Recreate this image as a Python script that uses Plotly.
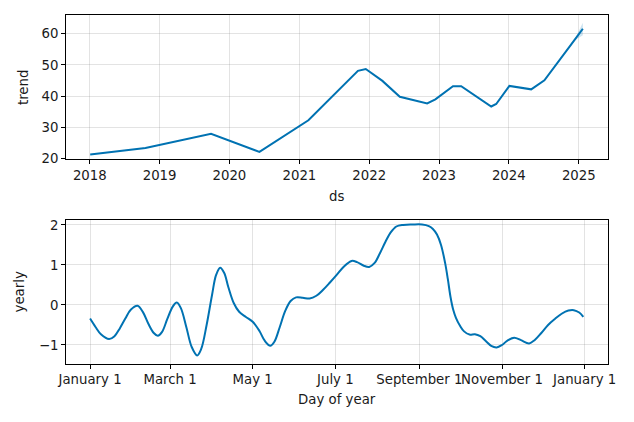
import pandas as pd
import plotly.graph_objects as go

# ---- trend component ----
trend_dates = ["2018-01-03", "2018-10-19", "2019-09-27", "2020-06-06", "2021-02-17",
               "2021-11-03", "2021-12-14", "2022-03-11", "2022-06-10", "2022-10-31",
               "2022-12-13", "2023-03-15", "2023-04-27", "2023-10-01", "2023-10-27",
               "2024-01-04", "2024-04-27", "2024-07-05", "2024-12-06", "2025-01-22"]
trend_vals = [21.3, 23.4, 28.0, 22.15, 32.3,
              48.1, 48.7, 44.9, 39.8, 37.7,
              39.0, 43.2, 43.2, 36.7, 37.5,
              43.3, 42.2, 45.1, 57.7, 61.6]
trend_lower = [21.3, 23.4, 28.0, 22.15, 32.3,
               48.1, 48.7, 44.9, 39.8, 37.7,
               39.0, 43.2, 43.2, 36.7, 37.5,
               43.3, 42.2, 45.1, 57.7, 59.5]
trend_upper = [21.3, 23.4, 28.0, 22.15, 32.3,
               48.1, 48.7, 44.9, 39.8, 37.7,
               39.0, 43.2, 43.2, 36.7, 37.5,
               43.3, 42.2, 45.1, 57.7, 63.5]

# ---- yearly component (day offset from Jan 1) ----
yearly_days = [0, 4, 8, 14, 18, 22, 26, 30, 35, 39, 43, 47, 50, 53, 57, 61, 64, 67, 71, 75,
               79, 82, 86, 90, 93, 96, 99, 102, 106, 110, 115, 120, 125, 129, 133, 136, 140,
               144, 148, 152, 157, 162, 167, 172, 177, 182, 187, 193, 197, 202, 206, 210,
               214, 218, 222, 226, 231, 238, 245, 250, 253, 256, 259, 262, 264, 266, 268,
               270, 273, 276, 280, 284, 288, 292, 296, 300, 304, 308, 313, 318, 324, 328,
               333, 338, 343, 348, 353, 357, 361, 364]
yearly_vals = [-0.34, -0.55, -0.73, -0.85, -0.78, -0.58, -0.34, -0.12, -0.02, -0.18, -0.47,
               -0.70, -0.77, -0.68, -0.35, -0.04, 0.06, -0.08, -0.55, -1.05,
               -1.26, -1.10, -0.50, 0.25, 0.75, 0.93, 0.80, 0.45, 0.05, -0.17, -0.30, -0.42,
               -0.65, -0.90, -1.02, -0.92, -0.55,
               -0.15, 0.10, 0.19, 0.18, 0.16, 0.23, 0.38, 0.56, 0.75, 0.95, 1.10, 1.07, 0.98,
               0.95, 1.05,
               1.30, 1.58, 1.82, 1.96, 2.00, 2.01, 2.01, 1.97, 1.90, 1.76, 1.50, 1.05, 0.65,
               0.20, -0.12,
               -0.32, -0.52, -0.66, -0.74, -0.73, -0.78, -0.90, -1.02, -1.06, -1.00, -0.89,
               -0.82, -0.88, -0.96, -0.88,
               -0.70, -0.50, -0.35, -0.22, -0.14, -0.13, -0.19, -0.30]

trend_ticks = ["2018", "2019", "2020", "2021", "2022", "2023", "2024", "2025"]
yearly_tick_dates = ["2017-01-01", "2017-03-01", "2017-05-01", "2017-07-01",
                     "2017-09-01", "2017-11-01", "2018-01-01"]
yearly_tick_labels = ["January 1", "March 1", "May 1", "July 1",
                      "September 1", "November 1", "January 1"]

BLUE = "#0072B2"
FONT = "DejaVu Sans"
FS = 13.3
W, H = 634, 422

yearly_dates = [pd.Timestamp("2017-01-01") + pd.Timedelta(days=d) for d in yearly_days]

fig = go.Figure()
fig.add_trace(go.Scatter(x=trend_dates, y=trend_upper, mode="lines", line=dict(width=0),
                         showlegend=False, hoverinfo="skip", xaxis="x", yaxis="y"))
fig.add_trace(go.Scatter(x=trend_dates, y=trend_lower, mode="lines", line=dict(width=0),
                         fill="tonexty", fillcolor="rgba(0,114,178,0.2)",
                         showlegend=False, hoverinfo="skip", xaxis="x", yaxis="y"))
fig.add_trace(go.Scatter(x=trend_dates, y=trend_vals, mode="lines",
                         line=dict(color=BLUE, width=2), showlegend=False,
                         xaxis="x", yaxis="y"))
fig.add_trace(go.Scatter(x=yearly_dates, y=yearly_vals, mode="lines",
                         line=dict(color=BLUE, width=2, shape="spline", smoothing=1.0),
                         showlegend=False, xaxis="x2", yaxis="y2"))

xd = [65.7 / W, 607.7 / W]
axis_common = dict(showline=True, linecolor="black", linewidth=1, mirror=True,
                   ticks="outside", ticklen=3.5, tickwidth=0.8, tickcolor="black",
                   showgrid=True, gridcolor="rgba(128,128,128,0.22)", gridwidth=1,
                   zeroline=False, automargin=False, tickangle=0,
                   tickfont=dict(family=FONT, size=FS, color="#1a1a1a"))

fig.update_layout(
    width=W, height=H, margin=dict(l=0, r=0, t=0, b=0),
    paper_bgcolor="white", plot_bgcolor="white",
    font=dict(family=FONT, size=FS, color="#1a1a1a"),
    xaxis=dict(domain=xd, anchor="y", type="date",
               range=["2017-08-28", "2025-06-01"],
               tickmode="array", tickvals=[f"{t}-01-01" for t in trend_ticks],
               ticktext=trend_ticks,
               title=dict(text="ds", standoff=9, font=dict(family=FONT, size=FS)),
               **axis_common),
    yaxis=dict(domain=[1 - 159.3 / H, 1 - 15.3 / H], anchor="x",
               range=[19.8, 65.9], tickmode="array", tickvals=[20, 30, 40, 50, 60],
               title=dict(text="trend", standoff=9, font=dict(family=FONT, size=FS)),
               **axis_common),
    xaxis2=dict(domain=xd, anchor="y2", type="date",
                range=["2016-12-14", "2018-01-18"],
                tickmode="array", tickvals=yearly_tick_dates, ticktext=yearly_tick_labels,
                title=dict(text="Day of year", standoff=8, font=dict(family=FONT, size=FS)),
                **axis_common),
    yaxis2=dict(domain=[1 - 364 / H, 1 - 219.7 / H], anchor="x2",
                range=[-1.475, 2.13], tickmode="array", tickvals=[-1, 0, 1, 2],
                ticktext=["\u22121", "0", "1", "2"],
                title=dict(text="yearly", standoff=11, font=dict(family=FONT, size=FS)),
                **axis_common),
)

fig.write_html("out.html")
